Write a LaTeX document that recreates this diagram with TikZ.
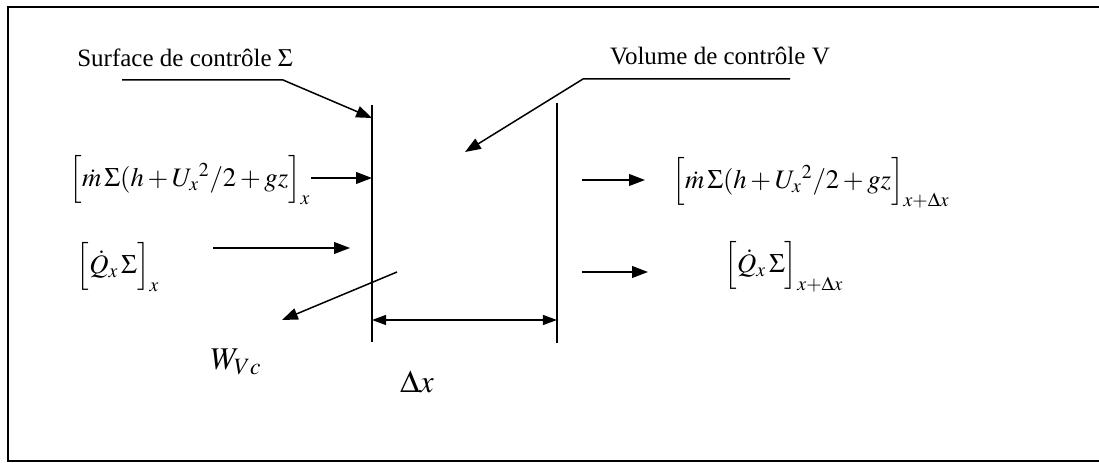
\documentclass[tikz,border=0pt]{standalone}
\usepackage{mathptmx}
\usepackage[no-math]{fontspec}
\setmainfont{Liberation Serif}
\usetikzlibrary{arrows.meta}

\begin{document}
\begin{tikzpicture}[x=0.6pt, y=-0.6pt,
    lbl/.style={font=\fontsize{15}{17}\selectfont, inner sep=0pt},
    formula/.style={font=\fontsize{16}{19}\selectfont, inner sep=0pt},
    big/.style={font=\fontsize{19}{22}\selectfont, inner sep=0pt},
    wall/.style={line width=1.1pt},
    arrow/.style={-{Triangle[length=9.5pt,width=7pt]}, line width=0.9pt},
    dim/.style={{Triangle[length=8.5pt,width=6pt]}-{Triangle[length=8.5pt,width=6pt]}, line width=0.9pt}
]
\useasboundingbox (0,0) rectangle (1099,463);
\draw[line width=1.1pt] (1099,7) -- (8,7) -- (8,461) -- (1099,461);

% control surfaces
\coordinate (inTop) at (372,105);
\coordinate (inBot) at (372,342);
\coordinate (outTop) at (557,103);
\coordinate (outBot) at (557,343);
\draw[wall] (inTop) -- (inBot);
\draw[wall] (outTop) -- (outBot);

% labels with leaders
\node[lbl] (surf) at (185,58) {Surface de contrôle $\Sigma$};
\node[lbl] (vol) at (720,56) {Volume de contrôle V};
\coordinate (surfL) at (122,80);
\coordinate (surfK) at (283,80);
\coordinate (surfTip) at (372,118);
\coordinate (volR) at (790,79);
\coordinate (volK) at (583,79);
\coordinate (volTip) at (465,152);
\draw[arrow] (surfL) -- (surfK) -- (surfTip);
\draw[arrow] (volR) -- (volK) -- (volTip);

% mass flow
\node[formula] (mIn) at (190,180) {$\Big[\dot m\,\Sigma(h+U_x{}^2/2+gz\Big]_x$};
\node[formula] (mOut) at (811,183) {$\Big[\dot m\,\Sigma(h+U_x{}^2/2+gz\Big]_{x+\Delta x}$};
\coordinate (mInTip) at (372,178);
\coordinate (mOutS) at (582,180);
\coordinate (mOutE) at (645,180);
\draw[arrow] (mIn.east |- mInTip) -- (mInTip);
\draw[arrow] (mOutS) -- (mOutE);

% heat flux
\node[formula] (qIn) at (118,267) {$\Big[\dot Q_x\,\Sigma\Big]_x$};
\node[formula] (qOut) at (784,267) {$\Big[\dot Q_x\,\Sigma\Big]_{x+\Delta x}$};
\coordinate (qInS) at (213,248);
\coordinate (qInE) at (350,248);
\coordinate (qOutS) at (582,272);
\coordinate (qOutE) at (648,272);
\draw[arrow] (qInS) -- (qInE);
\draw[arrow] (qOutS) -- (qOutE);

% work and width
\node[big] (work) at (236,362) {$W_{Vc}$};
\node[big] (dx) at (417,382) {$\Delta x$};
\coordinate (wS) at (397,272);
\coordinate (wE) at (282,320);
\coordinate (dxL) at (372,320);
\coordinate (dxR) at (557,320);
\draw[arrow] (wS) -- (wE);
\draw[dim] (dxL) -- (dxR);
\end{tikzpicture}
\end{document}
